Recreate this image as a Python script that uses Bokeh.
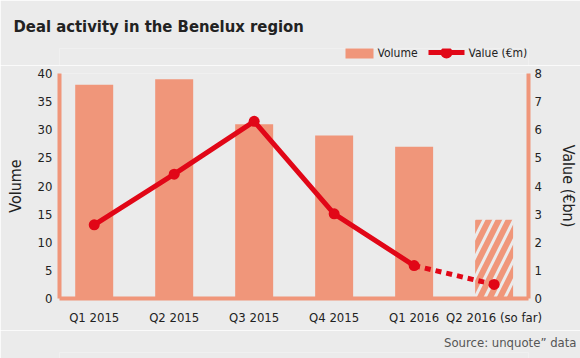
from bokeh.plotting import figure
from bokeh.layouts import column
from bokeh.models import Range1d, LinearAxis, FixedTicker, ColumnDataSource, Title
from bokeh.core.properties import value
from bokeh.embed import file_html
from bokeh.resources import INLINE

# ---- data ----
categories = ["Q1 2015", "Q2 2015", "Q3 2015", "Q4 2015", "Q1 2016", "Q2 2016 (so far)"]
volume = [38, 39, 31, 29, 27, 14]
value_bn = [2.62, 4.42, 6.30, 3.01, 1.17, 0.50]
volume_ticks = [0, 5, 10, 15, 20, 25, 30, 35, 40]
value_ticks = [0, 1, 2, 3, 4, 5, 6, 7, 8]
title_text = "Deal activity in the Benelux region"
legend_labels = ["Volume", "Value (€m)"]
source_text = "Source: unquote\u201d data"

BG = "#ebebeb"
SALMON = "#f0967a"
RED = "#e10717"
FONT = "DejaVu Sans Condensed, Roboto, sans-serif"
TXT = "#222222"
W = 580
# horizontal extent of the shared (aligned) plot frame, in page pixels
FRAME_L, FRAME_R = 59, 528


def strip(height, border_top, y_span):
    f = figure(width=W, height=height, output_backend="svg", toolbar_location=None,
               title=None, x_range=Range1d(FRAME_L, FRAME_R), y_range=Range1d(0, y_span),
               x_axis_type=None, y_axis_type=None,
               min_border_left=0, min_border_right=0,
               min_border_top=border_top, min_border_bottom=0)
    f.grid.visible = False
    f.background_fill_color = BG
    f.border_fill_color = BG
    f.outline_line_color = None
    return f


# ---- header: title + legend keys ----
HEAD_H, HEAD_TOP = 65, 48
top = strip(HEAD_H, HEAD_TOP, HEAD_H - HEAD_TOP)
top.add_layout(Title(text=title_text, align="left", offset=13 - FRAME_L, standoff=26,
                     text_font=FONT, text_font_size="16.5px", text_font_style="bold",
                     text_color=TXT), "above")
# legend keys, in header pixel coordinates (y measured up from the header bottom)
top.rect(x=[359], y=[13], width=28, height=12, fill_color=SALMON, line_color=None)
top.text(x=[377], y=[13], text=[legend_labels[0]], text_font=value(FONT), text_font_size="12px",
         text_color=TXT, text_baseline="middle")
top.line(x=[428, 464], y=[13, 13], line_color=RED, line_width=5)
top.scatter(x=[446], y=[13], size=12, fill_color=RED, line_color=None)
top.text(x=[468], y=[13], text=[legend_labels[1]], text_font=value(FONT), text_font_size="12px",
         text_color=TXT, text_baseline="middle")

# ---- main chart ----
xs = list(range(len(categories)))
p = figure(width=W, height=265, output_backend="svg", toolbar_location=None, title=None,
           x_range=Range1d(-0.434, 5.43), y_range=Range1d(0, 40),
           min_border_left=FRAME_L, min_border_right=W - FRAME_R,
           min_border_top=8, min_border_bottom=32)
p.extra_y_ranges = {"val": Range1d(0, 8)}
p.background_fill_color = BG
p.border_fill_color = BG
p.outline_line_color = None
p.grid.visible = False

solid_src = ColumnDataSource(dict(x=xs[:-1], top=volume[:-1]))
proj_src = ColumnDataSource(dict(x=xs[-1:], top=volume[-1:]))
p.vbar(x="x", top="top", width=0.475, source=solid_src, fill_color=SALMON, line_color=None)
p.vbar(x="x", top="top", width=0.475, source=proj_src,
       fill_alpha=0, line_color=None, hatch_pattern="/", hatch_color=SALMON,
       hatch_weight=6, hatch_scale=20)

p.line(xs[:-1], value_bn[:-1], y_range_name="val", line_color=RED, line_width=5)
p.line(xs[-2:], value_bn[-2:], y_range_name="val", line_color=RED, line_width=5,
       line_dash="6 5")
p.scatter(xs, value_bn, y_range_name="val", size=11, fill_color=RED, line_color=None)


def style_axis(ax, size="13px"):
    ax.axis_line_color = SALMON
    ax.axis_line_width = 4
    ax.major_tick_line_color = None
    ax.minor_tick_line_color = None
    ax.major_tick_out = 0
    ax.major_tick_in = 0
    ax.minor_tick_out = 0
    ax.minor_tick_in = 0
    ax.major_label_text_font = FONT
    ax.major_label_text_font_size = size
    ax.major_label_text_color = TXT
    ax.axis_label_text_font = FONT
    ax.axis_label_text_font_size = "16px"
    ax.axis_label_text_font_style = "normal"
    ax.axis_label_text_color = TXT


ya = p.yaxis[0]
ya.ticker = FixedTicker(ticks=volume_ticks)
ya.axis_label = "Volume"
style_axis(ya)
ya.major_label_standoff = 7
ya.axis_label_standoff = 10

ra = LinearAxis(y_range_name="val", ticker=FixedTicker(ticks=value_ticks), axis_label="Value (€bn)")
style_axis(ra)
ra.major_label_standoff = 6
ra.axis_label_standoff = 14
p.add_layout(ra, "right")

xa = p.xaxis[0]
xa.ticker = FixedTicker(ticks=xs)
xa.major_label_overrides = {i: c for i, c in zip(xs, categories)}
style_axis(xa, "13px")
xa.major_label_standoff = 11

# ---- footer: source ----
FOOT_H, FOOT_TOP = 28, 22
bot = strip(FOOT_H, FOOT_TOP, FOOT_H - FOOT_TOP)
bot.add_layout(Title(text=source_text, align="right", offset=FRAME_R - 576, standoff=5,
                     text_font=FONT, text_font_size="13px", text_font_style="normal",
                     text_color="#555555"), "above")

layout = column(top, p, bot, spacing=0)
html = file_html(layout, INLINE)
html = html.replace("<body>", '<body style="background-color:#ebebeb">', 1)
open("out.html", "w").write(html)
